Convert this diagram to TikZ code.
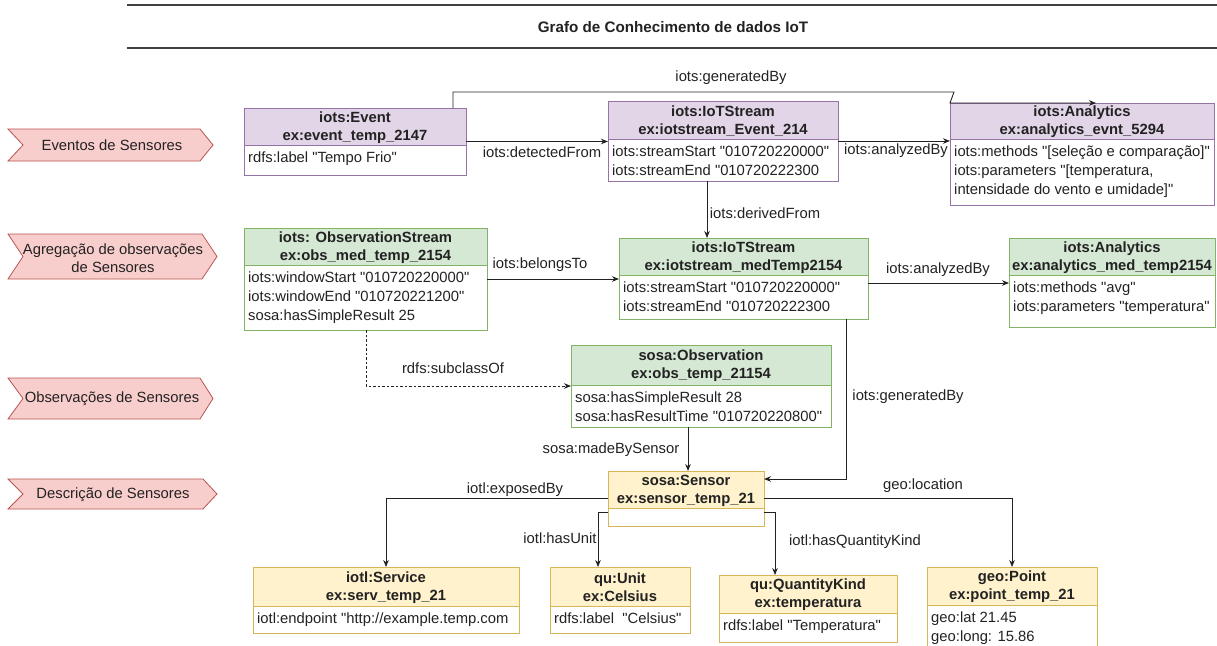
\documentclass[tikz,border=0pt]{standalone}
\usepackage{fontspec}
\setmainfont{Liberation Sans}[Ligatures=TeXOff]
\usetikzlibrary{arrows.meta,calc}

\definecolor{pfill}{HTML}{E1D5E7}\definecolor{pline}{HTML}{9673A6}
\definecolor{gfill}{HTML}{D5E8D4}\definecolor{gline}{HTML}{82B366}
\definecolor{yfill}{HTML}{FFF2CC}\definecolor{yline}{HTML}{D6B656}
\definecolor{rfill}{HTML}{F8CECC}\definecolor{rline}{HTML}{B85450}
\definecolor{ink}{HTML}{222222}

\tikzset{
  hdrtext/.style={font=\bfseries\fontsize{14.8}{18}\selectfont, align=center, inner sep=0pt, text=ink},
  bodytext/.style={font=\fontsize{14.8}{18.8}\selectfont, align=left, anchor=north west, inner sep=0pt, text=ink},
  lbl/.style={font=\fontsize{14.8}{17}\selectfont, inner sep=0pt, text=ink},
  conn/.style={draw=ink, line width=0.9pt, -{Stealth[length=7pt,width=5.5pt]}},
  chev/.style={fill=rfill, draw=rline, line width=0.8pt},
  ruleline/.style={draw=black!75, line width=2pt}
}

% RDF resource box: name, x, y, width, header height, total height, colour, header, body
\newcommand{\rdfbox}[9]{%
  \fill[#7fill] (#2,#3) rectangle ++(#4,#5);
  \node[draw=#7line, line width=0.9pt, minimum width=#4pt, minimum height=#6pt,
        inner sep=0pt, outer sep=0pt, anchor=north west] (#1) at (#2,#3) {};
  \draw[#7line, line width=0.9pt] ($(#1.north west)+(0,#5)$) -- ($(#1.north east)+(0,#5)$);
  \node[hdrtext] (#1-h) at ({#2+#4/2},{#3+#5/2+1}) {#8};
  \node[bodytext] (#1-b) at ({#2+4},{#3+#5+7}) {#9};
}

\begin{document}
\begin{tikzpicture}[x=1pt,y=-1pt]
\useasboundingbox (0,0) rectangle (1217,645);
\clip (0,0) rectangle (1217,645);
\fill[white] (0,0) rectangle (1217,645);

% title band
\draw[ruleline] (127,5) -- (1217,5);
\draw[ruleline] (127,48) -- (1217,48);
\node[font=\bfseries\fontsize{15.2}{18}\selectfont, text=ink] (title) at (673,27) {Grafo de Conhecimento de dados IoT};

% layer markers
\draw[chev] (8,129) -- (200,129) -- (213,145) -- (200,161) -- (8,161) -- (23,145) -- cycle;
\node[lbl] (lay1) at (112,145) {Eventos de Sensores};
\draw[chev] (8,234) -- (202,234) -- (217,256.5) -- (202,279) -- (8,279) -- (23,256.5) -- cycle;
\node[lbl, align=center, font=\fontsize{14.8}{17.5}\selectfont] (lay2) at (113,258) {Agregação de observações\\de Sensores};
\draw[chev] (8,378) -- (200,378) -- (213,398.5) -- (200,419) -- (8,419) -- (23,398.5) -- cycle;
\node[lbl] (lay3) at (112,399) {Observações de Sensores};
\draw[chev] (8,479) -- (203,479) -- (217,494) -- (203,509) -- (8,509) -- (23,494) -- cycle;
\node[lbl] (lay4) at (113,495) {Descrição de Sensores};

% resources
\rdfbox{ev}{244}{108}{222}{37}{67}{p}{iots:Event\\ex:event\_temp\_2147}{rdfs:label "Tempo Frio"}
\rdfbox{ise}{608}{101}{230}{38}{80}{p}{iots:IoTStream\\ex:iotstream\_Event\_214}{iots:streamStart "010720220000"\\iots:streamEnd "010720222300}
\rdfbox{ane}{950}{103}{264}{36}{102}{p}{iots:Analytics\\ex:analytics\_evnt\_5294}{iots:methods "[seleção e comparação]"\\iots:parameters "[temperatura,\\intensidade do vento e umidade]"}
\rdfbox{obs}{244}{228}{243}{37}{102}{g}{iots: ObservationStream\\ex:obs\_med\_temp\_2154}{iots:windowStart "010720220000"\\iots:windowEnd "010720221200"\\sosa:hasSimpleResult 25}
\rdfbox{ism}{619}{238}{249}{37}{81}{g}{iots:IoTStream\\ex:iotstream\_medTemp2154}{iots:streamStart "010720220000"\\iots:streamEnd "010720222300}
\rdfbox{anm}{1009}{238}{206}{37}{89}{g}{iots:Analytics\\ex:analytics\_med\_temp2154}{iots:methods "avg"\\iots:parameters "temperatura"}
\rdfbox{so}{571}{345}{260}{40}{82}{g}{sosa:Observation\\ex:obs\_temp\_21154}{sosa:hasSimpleResult 28\\sosa:hasResultTime "010720220800"}
\rdfbox{sen}{608}{471}{156}{37}{55}{y}{sosa:Sensor\\ex:sensor\_temp\_21}{}
\rdfbox{srv}{253}{567}{266}{39}{66}{y}{iotl:Service\\ex:serv\_temp\_21}{iotl:endpoint "http://example.temp.com}
\rdfbox{unit}{550}{567}{140}{39}{66}{y}{qu:Unit\\ex:Celsius}{rdfs:label\ \ "Celsius"}
\rdfbox{qk}{719}{575}{178}{38}{67}{y}{qu:QuantityKind\\ex:temperatura}{rdfs:label "Temperatura"}
\rdfbox{pt}{927}{567}{170}{38}{100}{y}{geo:Point\\ex:point\_temp\_21}{geo:lat 21.45\\geo:long: 15.86}

% bend points
\coordinate (gbA) at (453,92);
\coordinate (gbB) at (954,92);
\coordinate (dfx) at (707,0);
\coordinate (azm) at (0,283);
\coordinate (scx) at (366,0);
\coordinate (gbx) at (846,479);
\coordinate (mbx) at (688,0);
\coordinate (hu) at (598,512);
\coordinate (hq) at (775,512);

% relations
\draw[conn] (ev.north -| gbA) -- (gbA) -- (gbB) -- (ane.north west) -- ([xshift=146pt]ane.north west);
\draw[conn] (ev.east) -- (ev.east -| ise.west);
\draw[conn] (ise.east) -- (ise.east -| ane.west);
\draw[conn] (ise.south -| dfx) -- (ism.north -| dfx);
\draw[conn] (obs.east) -- (obs.east -| ism.west);
\draw[conn] (ism.east |- azm) -- (anm.west |- azm);
\draw[conn, dashed, dash pattern=on 2.5pt off 2pt] (obs.south -| scx) |- (so.west);
\draw[conn] (ism.south -| gbx) -- (gbx) -- (gbx -| sen.east);
\draw[conn] (so.south -| mbx) -- (sen.north -| mbx);
\draw[conn] (sen.west) -| (srv.north);
\draw[conn] (sen.west |- hu) -- (hu) -- (unit.north -| hu);
\draw[conn] (sen.east |- hq) -- (hq) -- (qk.north -| hq);
\draw[conn] (sen.east) -| (pt.north);

% relation labels
\node[lbl] (l-gen1) at (731,78) {iots:generatedBy};
\node[lbl] (l-det) at (542,152) {iots:detectedFrom};
\node[lbl] (l-an1) at (896,151) {iots:analyzedBy};
\node[lbl] (l-der) at (765,213) {iots:derivedFrom};
\node[lbl] (l-bel) at (540,265) {iots:belongsTo};
\node[lbl] (l-an2) at (938,270) {iots:analyzedBy};
\node[lbl] (l-sub) at (453,368) {rdfs:subclassOf};
\node[lbl] (l-gen2) at (908,397) {iots:generatedBy};
\node[lbl] (l-made) at (611,450) {sosa:madeBySensor};
\node[lbl] (l-exp) at (515,490) {iotl:exposedBy};
\node[lbl] (l-unit) at (560,538) {iotl:hasUnit};
\node[lbl] (l-qk) at (855,542) {iotl:hasQuantityKind};
\node[lbl] (l-loc) at (923,486) {geo:location};
\end{tikzpicture}
\end{document}
